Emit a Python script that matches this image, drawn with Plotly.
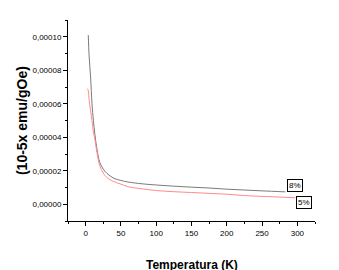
import plotly.graph_objects as go

# Temperature (K) and susceptibility (emu/gOe)
t_8 = [3.7, 5, 7, 9, 11, 13, 16, 20, 25, 30, 40, 50, 60, 80, 100, 125, 150, 175, 200, 225, 250, 283]
chi_8 = [10.1e-5, 8.8e-5, 7.6e-5, 6.0e-5, 5.0e-5, 4.2e-5, 3.3e-5, 2.5e-5, 2.1e-5, 1.85e-5, 1.55e-5,
         1.42e-5, 1.33e-5, 1.22e-5, 1.15e-5, 1.08e-5, 1.02e-5, 0.97e-5, 0.90e-5, 0.85e-5, 0.80e-5, 0.74e-5]

t_5 = [3, 4, 5, 7, 9, 11, 13, 16, 20, 25, 30, 40, 50, 60, 80, 100, 125, 150, 175, 200, 225, 250, 297]
chi_5 = [6.9e-5, 6.7e-5, 6.2e-5, 5.6e-5, 5.0e-5, 4.3e-5, 3.9e-5, 3.1e-5, 2.3e-5, 1.85e-5, 1.6e-5,
         1.35e-5, 1.2e-5, 1.05e-5, 0.92e-5, 0.82e-5, 0.75e-5, 0.70e-5, 0.65e-5, 0.60e-5, 0.52e-5,
         0.47e-5, 0.39e-5]

labels = ["8%", "5%"]
label_x = [296, 309]
label_y = [1.12e-5, 0.08e-5]

x_ticks = [0, 50, 100, 150, 200, 250, 300]
y_ticks = [0, 2e-5, 4e-5, 6e-5, 8e-5, 10e-5]

FONT = "Arial"

fig = go.Figure()
fig.add_trace(go.Scatter(x=t_8, y=chi_8, mode="lines", line=dict(color="#7a7a7a", width=1, shape="spline"),
                         showlegend=False, hoverinfo="skip"))
fig.add_trace(go.Scatter(x=t_5, y=chi_5, mode="lines", line=dict(color="#ff8a8a", width=1, shape="spline"),
                         showlegend=False, hoverinfo="skip"))

for txt, xx, yy in zip(labels, label_x, label_y):
    fig.add_annotation(x=xx, y=yy, xref="x", yref="y", text=txt, showarrow=False,
                       font=dict(family=FONT, size=8, color="black"),
                       bordercolor="black", borderwidth=1, borderpad=1, bgcolor="white")

fig.add_annotation(x=0.5, y=-0.219, xref="paper", yref="paper", text="<b>Temperatura (K)</b>",
                   showarrow=False, font=dict(family=FONT, size=12, color="black"),
                   xanchor="center", yanchor="middle")
fig.add_annotation(x=-0.188, y=0.5, xref="paper", yref="paper", text="<b>(10-5x emu/gOe)</b>",
                   showarrow=False, textangle=-90, font=dict(family=FONT, size=14, color="black"),
                   xanchor="center", yanchor="middle")

fig.update_layout(
    width=331, height=262,
    margin=dict(l=60, r=24, t=12, b=49),
    paper_bgcolor="white", plot_bgcolor="white",
    separators=",.",
    font=dict(family=FONT, size=8, color="black"),
    xaxis=dict(range=[-25, 325], tickvals=x_ticks, showgrid=False, zeroline=False, automargin=False,
               showline=True, linecolor="black", linewidth=1,
               ticks="outside", ticklen=4, tickcolor="black",
               minor=dict(dtick=25, tick0=0, ticklen=2, ticks="outside", tickcolor="black", showgrid=False),
               tickfont=dict(size=8)),
    yaxis=dict(range=[-1e-5, 11e-5], tickvals=y_ticks, tickformat=".5f", showgrid=False, zeroline=False,
               automargin=False,
               showline=True, linecolor="black", linewidth=1,
               ticks="outside", ticklen=4, tickcolor="black",
               minor=dict(dtick=1e-5, tick0=0, ticklen=2, ticks="outside", tickcolor="black", showgrid=False),
               tickfont=dict(size=8)),
)

fig.write_html("out.html")
